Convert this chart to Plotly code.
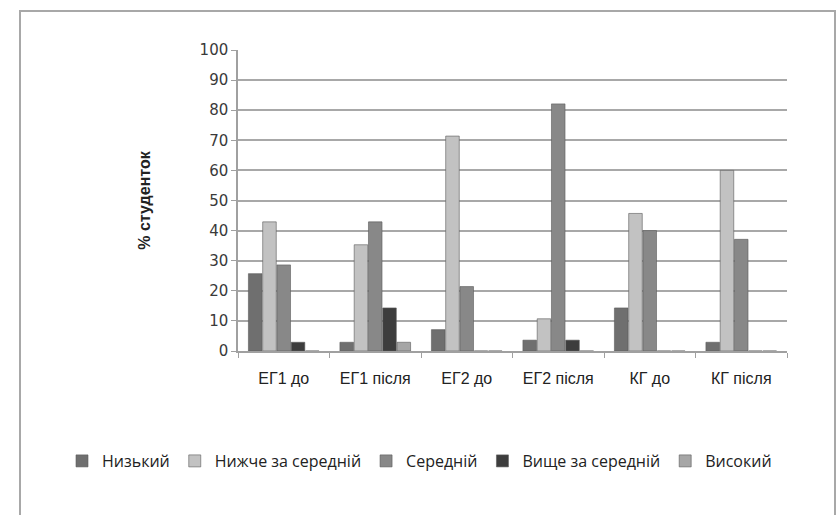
import plotly.graph_objects as go

# Groups of students (before / after) and achievement levels
groups = ["ЕГ1 до", "ЕГ1 після", "ЕГ2 до", "ЕГ2 після", "КГ до", "КГ після"]
levels = ["Низький", "Нижче за середній", "Середній", "Вище за середній", "Високий"]

# Share of students (%) per level, one list per level, ordered as `groups`
nyzkyi = [25.7, 2.9, 7.1, 3.6, 14.3, 2.9]
nyzhche = [42.9, 35.3, 71.4, 10.7, 45.7, 60.0]
serednii = [28.6, 42.9, 21.4, 82.1, 40.0, 37.1]
vyshche = [2.9, 14.3, 0.0, 3.6, 0.0, 0.0]
vysokyi = [0.0, 2.9, 0.0, 0.0, 0.0, 0.0]

series = [nyzkyi, nyzhche, serednii, vyshche, vysokyi]
colors = ["#6f6f6f", "#c2c2c2", "#888888", "#3d3d3d", "#a6a6a6"]

y_ticks = list(range(0, 101, 10))

W, H = 837, 515
L, R, T, B = 238, 50, 50, 164
pw, ph = W - L - R, H - T - B


def px_x(x):
    return (x - L) / pw


def px_y(y):
    return (H - B - y) / ph


fig = go.Figure()
for name, vals, col in zip(levels, series, colors):
    fig.add_trace(go.Bar(
        x=groups, y=vals, name=name,
        marker=dict(color=col, line=dict(color="#5a5a5a", width=0.6)),
    ))

fig.update_layout(
    width=W, height=H,
    margin=dict(l=L, r=R, t=T, b=B),
    paper_bgcolor="white", plot_bgcolor="white",
    barmode="group", bargap=0.22, bargroupgap=0.05,
    font=dict(family="Liberation Sans, sans-serif", color="#333333"),
    showlegend=True,
    legend=dict(
        orientation="h", x=px_x(62), xanchor="left",
        y=px_y(461), yanchor="middle",
        font=dict(size=16, family="Open Sans, sans-serif", color="#222222"),
        itemwidth=30, traceorder="normal",
    ),
    xaxis=dict(
        type="category", showgrid=False, showline=True, linecolor="#a0a0a0", linewidth=1.5,
        ticks="outside", tickson="boundaries", ticklen=5, tickcolor="#a0a0a0",
        ticklabelstandoff=12,
        tickfont=dict(size=16, family="Liberation Sans, sans-serif", color="#222222"),
    ),
    yaxis=dict(
        range=[0, 100], tickvals=y_ticks, showgrid=True, gridcolor="#a8a8a8", gridwidth=1.5,
        showline=True, linecolor="#a0a0a0", linewidth=1.5, zeroline=False,
        ticks="outside", ticklen=5, tickcolor="#a0a0a0",
        tickfont=dict(size=15, family="DejaVu Sans, sans-serif", color="#3a3a3a"),
        title=dict(text="% студенток", standoff=45,
                   font=dict(size=16, family="Liberation Sans, Arial, sans-serif", color="#222222",
                             weight="bold")),
    ),
    shapes=[dict(type="rect", xref="paper", yref="paper",
                 x0=px_x(20), x1=px_x(835), y0=px_y(518), y1=px_y(11),
                 line=dict(color="#a8a8a8", width=2), layer="below")],
)

fig.write_html("out.html")
